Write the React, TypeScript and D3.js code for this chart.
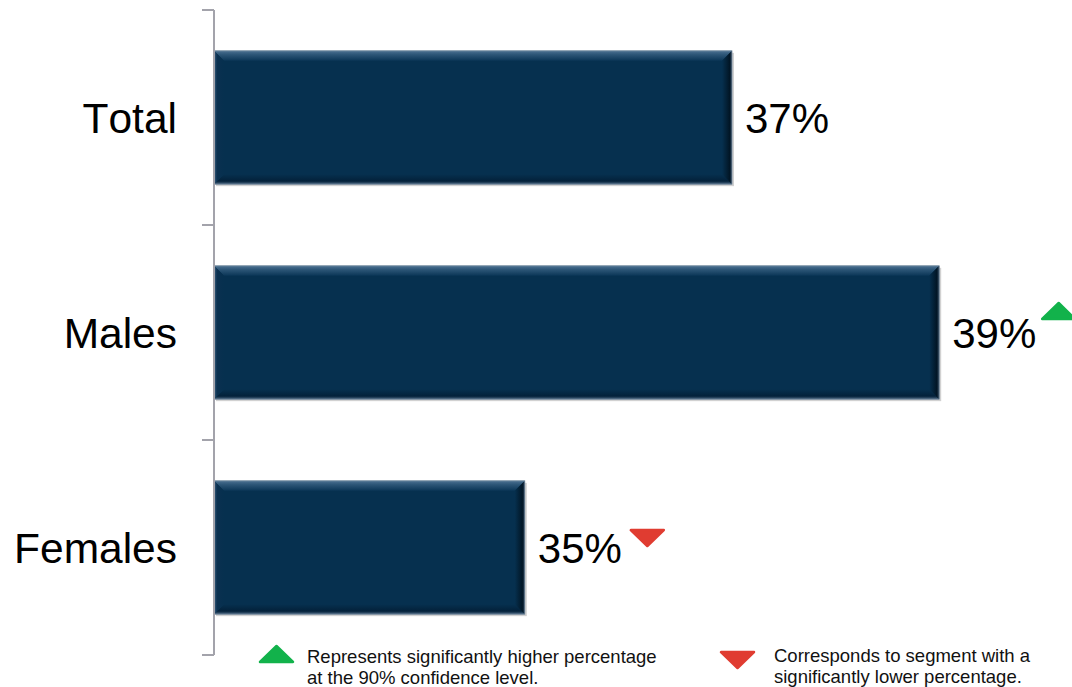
import React from "react";
import * as d3 from "d3";

const categories = ["Total", "Males", "Females"];
const values = [37, 39, 35];
const significance = ["", "up", "down"];
const valueLabels = ["37%", "39%", "35%"];
const legendUp = ["Represents significantly higher percentage", "at the 90% confidence level."];
const legendDown = ["Corresponds to segment with a", "significantly lower percentage."];

const W = 1072;
const H = 687;
const FONT = "Arial, 'Liberation Sans', Helvetica, sans-serif";
const GREEN = "#12b24b";
const RED = "#e03c31";

function triPath(cx: number, yTop: number, w: number, h: number, up: boolean) {
  const r = 2;
  if (up) {
    return `M${cx - w / 2 + r},${yTop + h} L${cx},${yTop + r} L${cx + w / 2 - r},${yTop + h} Z`;
  }
  return `M${cx - w / 2 + r},${yTop} L${cx + w / 2 - r},${yTop} L${cx},${yTop + h - r} Z`;
}

export default function App() {
  const x = d3.scaleLinear().domain([32, 40]).range([214, 214 + 8 * 103.6]);
  const y = d3
    .scaleBand<string>()
    .domain(categories)
    .range([10, 655])
    .paddingInner(0.38)
    .paddingOuter(0.19);
  const step = y.step();
  const bw = y.bandwidth();
  const tickYs = [
    ...categories.map((c) => (y(c) as number) - (step * 0.38) / 2),
    (y(categories[categories.length - 1]) as number) + bw + (step * 0.38) / 2,
  ];
  const bev = 10;
  const valFont = 42;
  const textStyle = { fontKerning: "none" as const };

  return (
    <svg width={W} height={H} style={{ position: "absolute", left: 0, top: 0, background: "#fff" }}>
      <defs>
        <linearGradient id="gTop" x1="0" y1="0" x2="0" y2="1">
          <stop offset="0" stopColor="#4c7192" />
          <stop offset="0.35" stopColor="#2e5778" />
          <stop offset="1" stopColor="#0a3556" />
        </linearGradient>
        <linearGradient id="gBot" x1="0" y1="0" x2="0" y2="1">
          <stop offset="0" stopColor="#06304f" />
          <stop offset="0.7" stopColor="#03213a" />
          <stop offset="1" stopColor="#4a6680" />
        </linearGradient>
        <linearGradient id="gLeft" x1="0" y1="0" x2="1" y2="0">
          <stop offset="0" stopColor="#3d6283" />
          <stop offset="0.3" stopColor="#0a3050" />
          <stop offset="1" stopColor="#06304f" />
        </linearGradient>
        <linearGradient id="gRight" x1="0" y1="0" x2="1" y2="0">
          <stop offset="0" stopColor="#06304f" />
          <stop offset="0.75" stopColor="#011626" />
          <stop offset="1" stopColor="#2c4258" />
        </linearGradient>
      </defs>

      {/* bars */}
      {categories.map((c, i) => {
        const x0 = x(32);
        const x1 = x(values[i]);
        const y0 = y(c) as number;
        const y1 = y0 + bw;
        return (
          <g key={c}>
            <rect x={x0 + 2} y={y0 + 2} width={x1 - x0} height={bw} fill="#000" opacity={0.18} />
            <rect x={x0} y={y0} width={x1 - x0} height={bw} fill="#06304f" />
            <polygon
              points={`${x0},${y0} ${x1},${y0} ${x1 - bev},${y0 + bev} ${x0 + bev},${y0 + bev}`}
              fill="url(#gTop)"
            />
            <polygon
              points={`${x0},${y1} ${x1},${y1} ${x1 - bev},${y1 - bev} ${x0 + bev},${y1 - bev}`}
              fill="url(#gBot)"
            />
            <polygon
              points={`${x0},${y0} ${x0 + bev},${y0 + bev} ${x0 + bev},${y1 - bev} ${x0},${y1}`}
              fill="url(#gLeft)"
            />
            <polygon
              points={`${x1},${y0} ${x1 - bev},${y0 + bev} ${x1 - bev},${y1 - bev} ${x1},${y1}`}
              fill="url(#gRight)"
            />
            <rect x={x0} y={y0} width={x1 - x0} height={bw} fill="none" stroke="#7a8fa2" strokeWidth={0.8} />
          </g>
        );
      })}

      {/* axis */}
      <line x1={214} x2={214} y1={tickYs[0]} y2={tickYs[tickYs.length - 1]} stroke="#a3a3ab" strokeWidth={2} />
      {tickYs.map((ty, i) => (
        <line key={i} x1={202} x2={214} y1={ty} y2={ty} stroke="#a3a3ab" strokeWidth={2} />
      ))}

      {/* category labels */}
      {categories.map((c) => (
        <text
          key={c}
          x={177}
          y={(y(c) as number) + bw / 2 + 15.5}
          textAnchor="end"
          fontFamily={FONT}
          fontSize={42.5}
          fill="#000"
          style={textStyle}
        >
          {c}
        </text>
      ))}

      {/* value labels and significance markers */}
      {categories.map((c, i) => {
        const lx = x(values[i]) + 13;
        const by = (y(c) as number) + bw / 2 + 15.5;
        const labelW = 2.0 * valFont;
        const s = significance[i];
        return (
          <g key={c}>
            <text x={lx} y={by} fontFamily={FONT} fontSize={valFont} fill="#000" style={textStyle}>
              {valueLabels[i]}
            </text>
            {s === "up" && (
              <path
                d={triPath(lx + labelW + 3 + 19.5, by - 47, 37, 18, true)}
                fill={GREEN}
                stroke={GREEN}
                strokeWidth={2.5}
                strokeLinejoin="round"
              />
            )}
            {s === "down" && (
              <path
                d={triPath(lx + labelW + 6 + 19.5, by - 33, 37, 18, false)}
                fill={RED}
                stroke={RED}
                strokeWidth={2.5}
                strokeLinejoin="round"
              />
            )}
          </g>
        );
      })}

      {/* legend */}
      <path d={triPath(276.5, 644, 37, 18, true)} fill={GREEN} stroke={GREEN} strokeWidth={2.5} strokeLinejoin="round" />
      {legendUp.map((t, i) => (
        <text key={t} x={307} y={663 + i * 20.5} fontFamily={FONT} fontSize={18.5} fill="#111" style={textStyle}>
          {t}
        </text>
      ))}
      <path d={triPath(737.5, 652, 37, 18, false)} fill={RED} stroke={RED} strokeWidth={2.5} strokeLinejoin="round" />
      {legendDown.map((t, i) => (
        <text key={t} x={774} y={662 + i * 20.5} fontFamily={FONT} fontSize={18.5} fill="#111" style={textStyle}>
          {t}
        </text>
      ))}
    </svg>
  );
}
